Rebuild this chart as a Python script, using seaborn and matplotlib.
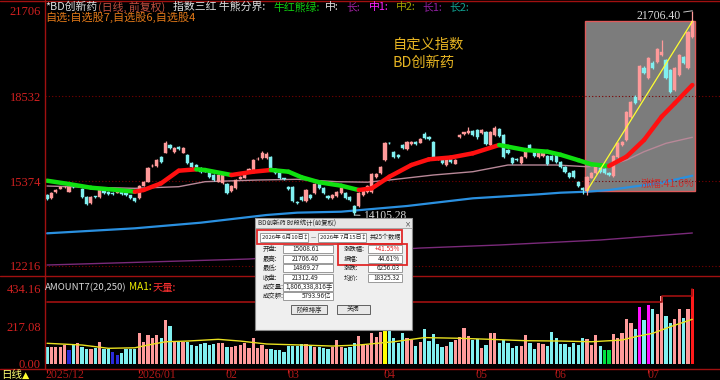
import numpy as np
import matplotlib
matplotlib.use("Agg")
import matplotlib.pyplot as plt
import matplotlib.transforms as mtransforms
import seaborn as sns
from matplotlib.patches import Rectangle

# ---------------- data ----------------
opens = [14853,14742,14965,15076,15140,14965,15160,15170,15076,14779,14556,14790,14779,15039,14965,14928,14928,14965,14928,14853,
         14742,14742,15188,15337,15920,15932,16267,16416,16713,16453,16639,16416,16341,16044,15969,15858,15783,15709,15597,15337,
         15300,15262,15002,15114,15448,15486,15709,15783,16180,16230,16230,16267,15820,15672,15460,15151,15151,14593,14779,14630,
         14853,14928,15337,15114,14816,14742,14816,14928,14928,14779,14444,14444,14853,14965,14965,15523,15672,16155,16788,16453,
         16341,16713,16564,16750,16825,16788,17122,17011,16825,16200,16155,15969,16267,16006,17011,17122,17160,17234,17271,17160,
         17197,16713,17085,17308,17085,16527,16230,16192,16044,16267,16713,16453,16267,16304,16304,16304,16341,16081,15895,15672,
         15746,15337,15114,15008.61,15486,15672,15858,15820,15672,15560,16267,16713,16899,17755,18499,18387,19578,19206,19764,19801,
         20061,19875,19503,18759,19317,19987,19578,20731]
highs = [14900,14960,15080,15180,15200,15190,15190,15230,15120,14800,14800,14830,15070,15070,14990,14950,15030,14990,14950,14870,
         14760,15220,15370,15890,15990,16190,16300,16850,16760,16640,16670,16650,16370,16070,16000,15880,15810,15730,15620,15630,
         15640,15290,15220,15440,15560,15700,15850,16190,16260,16480,16460,16300,15850,15700,15490,15180,15180,14620,14800,15070,
         14890,15300,15360,15140,14840,14880,14990,15140,14950,14800,14480,14960,15070,15220,15670,15670,15930,16830,16830,16480,
         16370,16740,16860,16860,16860,16970,17180,17040,16850,16230,16180,16220,16300,16190,17110,17200,17380,17260,17300,17300,
         17230,17230,17420,17340,17110,16560,16260,16230,16300,16560,16750,16480,16520,16480,16340,16330,16370,16110,15920,15700,
         15770,15360,15140,15560,15710,15930,15890,15850,15700,16340,16830,16870,17990,18360,18560,19700,19640,20000,19820,20330,
         20619,19930,19540,19620,20110,20040,20960,21706.40]
lows = [14660,14720,14940,15060,15110,14950,15120,15150,14760,14490,14530,14740,14760,14900,14870,14870,14910,14870,14830,14720,
        14600,14720,15170,15320,15890,15910,16060,16400,16580,16430,16540,16400,16020,15870,15800,15690,15700,15500,15390,15320,
        15280,14900,14980,15090,15430,15470,15690,15760,16150,16210,16200,15760,15650,15460,15410,15050,14600,14500,14640,14610,
        14720,14900,15090,14900,14720,14720,14790,14900,14720,14640,14105.28,14420,14830,14940,14940,15500,15650,16130,16740,16240,
        16240,16580,16540,16730,16730,16770,16950,16910,16200,16150,16020,15950,16060,15990,16990,17100,17140,17060,16940,17140,
        16720,16690,17060,17020,16240,16390,16020,16130,16020,16240,16500,16280,16240,16280,15980,16130,16060,15870,15690,15500,
        15500,15160,14880,14869.27,15470,15650,15690,15650,15570,15540,16240,16690,16870,17720,18240,18350,19350,19170,19540,19770,
        20030,19170,18650,18720,19290,19720,19540,20700]
closes = [14704,14928,15039,15151,15160,15151,15150,15190,14779,14518,14779,14770,15039,14928,14890,14890,15002,14890,14853,14742,
          14630,15188,15337,15858,15940,16155,16081,16788,16602,16602,16564,16602,16044,15895,15820,15709,15720,15523,15411,15597,
          15597,14928,15188,15411,15523,15672,15820,16155,16200,16416,16378,15783,15672,15486,15440,15076,14630,14540,14667,15039,
          14742,15262,15114,14928,14742,14853,14965,15114,14742,14667,14184,14928,15039,15188,15634,15634,15895,16788,16770,16267,
          16267,16602,16825,16825,16750,16936,16974,16936,16230,16180,16044,16192,16081,16155,17085,17197,17234,17085,17011,17271,
          16750,17197,17346,17048,16267,16416,16044,16155,16267,16527,16527,16304,16490,16453,16006,16155,16081,15895,15709,15523,
          15523,15188,15056.46,15523,15672,15895,15709,15672,15597,16304,16788,16825,17941,18313,18276,19652,19392,19950,19578,20284,
          20173,19206,18685,19578,20061,19764,20917,21312.49]
volumes = [94,94,97,97,107,78,107,121,97,84,84,88,126,84,84,68,49,63,84,84,
           84,179,126,165,146,165,146,252,217,126,132,126,126,107,101,113,121,107,113,121,
           117,94,97,103,107,117,88,146,88,107,84,84,78,78,68,101,101,101,113,111,
           107,97,94,88,84,94,136,97,88,97,117,159,107,107,175,155,184,194,194,146,
           117,179,146,136,101,126,198,131,169,113,94,101,126,136,155,204,159,136,140,88,
           107,179,179,121,136,117,88,101,101,165,117,82,117,113,101,182,150,113,113,97,
           121,107,146,140,107,165,101,78,78,171,146,175,258,233,202,325,252,339,314,285,
           391,277,233,256,314,262,316,434.16]
# special volume-bar flags
vol_flags = {5: "b", 15: "b", 16: "b", 77: "y", 127: "g", 128: "g", 135: "m", 137: "m", 147: "R"}

# moving-average lines (bar index, value)
ma_mid_idx = [0,5,10,16,20,22,26,30,34,36,42,47,51,55,58,62,67,71,74,78,83,87,92,97,103,105,109,114,117,121,124,128,132,136,140,143,147]
ma_mid_val = [15385,15262,15125,15039,14976,15039,15288,15757,15809,15783,15597,15720,15783,15720,15512,15326,15200,15039,15102,15534,
              15969,16181,16250,16404,16713,16650,16527,16464,16350,16150,15995,15932,16278,16899,17766,18264,18945]
ma_thin_idx = [0,10,20,30,36,48,57,66,73,78,88,97,105,116,123,128,132,136,141,147]
ma_thin_val = [15188,15140,15102,15162,15348,15411,15437,15348,15330,15411,15597,15720,15969,15969,15906,15943,16155,16464,16776,17000]
ma_blue_idx = [0,20,35,50,57,67,82,97,112,117,123,128,140,147]
ma_blue_val = [13428,13614,13823,14109,14196,14232,14444,14730,14879,14939,14976,15039,15311,15571]
ma_purp_idx = [0,23,46,85,103,126,147]
ma_purp_val = [12249,12361,12472,12880,12993,13179,13440]
vma_idx = [0,8,14,20,23,27,32,39,44,50,58,65,71,79,86,94,101,109,117,124,131,134,138,142,147]
vma_val = [117,107,88,91,107,126,130,140,130,113,107,101,107,126,150,146,140,132,130,126,136,155,175,213,256]
tianliang_idx = [0,140,147]
tianliang_val = [356,393,434.16]

price_ticks = [21706, 18532, 15374, 12216]
vol_ticks = [434.16, 217.08, 0.00]
month_idx = [0,21,41,55,77,98,116,137]
month_lbl = ["2025/12","2026/01","02","03","04","05","06","07"]
sel_start, sel_end = 123, 147

# ---------------- style ----------------
sns.set_theme(style="dark", rc={"axes.facecolor": "black", "figure.facecolor": "black",
                                 "axes.edgecolor": "black", "grid.color": "black"})
plt.rcParams["font.family"] = ["Noto Sans CJK SC", "DejaVu Sans"]
NUMF = ["Liberation Serif", "DejaVu Serif"]
CJK = ["Noto Sans CJK SC", "DejaVu Sans"]

UP, DN = "#ff9a9a", "#80f0f0"
AXRED = "#d02020"
LINERED = "#a01010"
flag_col = {"b": "#2a2ad8", "y": "#ffff00", "g": "#00e040", "m": "#ff10ff", "R": "#ff1a1a"}

W, H = 720, 380
fig = plt.figure(figsize=(7.2, 3.8), dpi=100, facecolor="black")

def fa(x0, y0, x1, y1):
    return [x0 / W, 1 - y1 / H, (x1 - x0) / W, (y1 - y0) / H]

ax_p = fig.add_axes(fa(45, 1, 720, 276))
ax_v = fig.add_axes(fa(45, 276, 720, 369), sharex=ax_p)
ax_o = fig.add_axes([0, 0, 1, 1], zorder=10)
ax_o.set_xlim(0, W); ax_o.set_ylim(H, 0); ax_o.axis("off")

for ax in (ax_p, ax_v):
    ax.set_facecolor("black")
    for s in ax.spines.values():
        s.set_visible(False)
    ax.grid(False)

o = np.array(opens, float); h = np.array(highs, float)
l = np.array(lows, float); c = np.array(closes, float)
n = len(o)
idx = np.arange(n)
up = c >= o
cols = np.where(up, UP, DN)

ax_p.set_xlim(-0.456, 153.3)
ax_p.set_ylim(11840, 22070)

# gray selection box and grid
ax_p.add_patch(Rectangle((sel_start - 0.5, o[sel_start]), sel_end - sel_start + 1, c[sel_end] - o[sel_start],
                         facecolor="#7c7c7c", edgecolor="#e05a5a", lw=1.0, zorder=0.8))
for v in price_ticks[1:]:
    ax_p.axhline(v, color="#7a0000", lw=0.8, ls=(0, (1, 2)), zorder=1)

# long MAs
sns.lineplot(x=ma_purp_idx, y=ma_purp_val, ax=ax_p, color="#7a2a7a", lw=1.0, estimator=None, sort=False, zorder=2)
sns.lineplot(x=ma_blue_idx, y=ma_blue_val, ax=ax_p, color="#2a90e0", lw=1.6, estimator=None, sort=False, zorder=2)
sns.lineplot(x=ma_thin_idx, y=ma_thin_val, ax=ax_p, color="#b88898", lw=1.0, estimator=None, sort=False, zorder=2)

# candles
ax_p.vlines(idx, l, h, colors=cols, lw=0.9, zorder=3)
body_lo = np.minimum(o, c)
body_h = np.maximum(np.abs(c - o), 28)
ax_p.bar(idx, body_h, bottom=body_lo, width=0.72, color=cols, edgecolor=cols, lw=0.3, zorder=4)

# thick MA, red rising / green falling
prev = "#ff1010"
for k in range(len(ma_mid_idx) - 1):
    y0, y1 = ma_mid_val[k], ma_mid_val[k + 1]
    colr = "#ff1010" if y1 > y0 else ("#10e010" if y1 < y0 else prev)
    prev = colr
    ax_p.plot([ma_mid_idx[k], ma_mid_idx[k + 1]], [y0, y1], color=colr, lw=3.2,
              solid_capstyle="round", zorder=5)

# diagonal of selection
ax_p.plot([sel_start, sel_end], [o[sel_start], c[sel_end]], color="#ffff30", lw=0.9, zorder=6)

# labels of extremes
hi_i = int(np.argmax(h)); lo_i = int(np.argmin(l))
ax_p.annotate(f"{h[hi_i]:.2f}", xy=(hi_i, h[hi_i]), xytext=(-12, -5), textcoords="offset pixels",
              ha="right", va="center", color="#d8d8d8", fontsize=8.5, family=NUMF,
              arrowprops=dict(arrowstyle="-", color="#c8c8c8", lw=0.7, shrinkA=0, shrinkB=0), zorder=7)
ax_p.annotate(f"{l[lo_i]:.2f}", xy=(lo_i, l[lo_i]), xytext=(9, -1), textcoords="offset pixels",
              ha="left", va="center", color="#d8d8d8", fontsize=8.3, family=NUMF,
              arrowprops=dict(arrowstyle="-", color="#c8c8c8", lw=0.7, shrinkA=0, shrinkB=0), zorder=7)
pct = (c[sel_end] / c[sel_start - 1] - 1) * 100
ax_p.text(sel_end + 0.5, o[sel_start] + 60, f"涨幅:{pct:.1f}%", ha="right", va="bottom",
          color="#c83030", fontsize=7.5, family=CJK, zorder=6)

ax_p.set_yticks(price_ticks)
ax_p.set_yticklabels([str(t) for t in price_ticks])
ax_p.tick_params(axis="y", length=0, pad=3, labelcolor=AXRED, labelsize=9)
ax_p.tick_params(axis="x", bottom=False, labelbottom=False)
for t in ax_p.get_yticklabels():
    t.set_family(NUMF)

# ---------------- volume ----------------
vcols = [flag_col[vol_flags[i]] if i in vol_flags else (UP if up[i] else DN) for i in range(n)]
ax_v.set_ylim(-31.8, 506.6)
ax_v.bar(idx, volumes, width=0.74, color=vcols, lw=0, zorder=3)
sns.lineplot(x=vma_idx, y=vma_val, ax=ax_v, color="#e8e020", lw=1.0, estimator=None, sort=False, zorder=4)
ax_v.step(tianliang_idx, tianliang_val, where="post", color=LINERED, lw=1.2, zorder=4)
ax_v.set_yticks(vol_ticks)
ax_v.set_yticklabels([f"{t:.2f}" for t in vol_ticks])
ax_v.tick_params(axis="y", length=0, pad=3, labelcolor=AXRED, labelsize=9)
ax_v.set_xticks(month_idx)
ax_v.tick_params(axis="x", bottom=True, length=3, width=0.8, color=AXRED, labelbottom=False)
for t in ax_v.get_yticklabels():
    t.set_family(NUMF)
ax_v.set_xlabel(""); ax_v.set_ylabel(""); ax_p.set_ylabel(""); ax_p.set_xlabel("")

# month labels just under the volume panel
blend = mtransforms.blended_transform_factory(ax_v.transData, ax_o.transData)
for mi, ml in zip(month_idx, month_lbl):
    ax_o.text(mi - 0.3, 374.5, ml, transform=blend, ha="left", va="center",
              color="#b01818", fontsize=8.6, family=NUMF)

# ---------------- frame lines ----------------
for yy in (1, 276, 369):
    ax_o.plot([0, W], [yy, yy], color=LINERED, lw=1.0, zorder=1)
ax_o.plot([45, 45], [0, 369], color=LINERED, lw=1.0, zorder=1)

# ---------------- texts ----------------
def put(x, y, s, col, size, fam=CJK, z=12):
    ax_o.text(x, y, s, color=col, fontsize=size, va="center", ha="left", family=fam, zorder=z)

title_parts = [(45, "*BD创新药", "#e0e0e0"), (97.5, "(日线, 前复权)", "#c05040"),
               (173, "指数三红 牛熊分界:", "#e0e0e0"), (273, "牛红熊绿:", "#10d010"),
               (325, "中:", "#e0e0e0"), (346, "长:", "#a020a0"), (369, "中1:", "#ff20ff"),
               (396, "中2:", "#a0a000"), (422, "长1:", "#9020a0"), (449, "长2:", "#10a090")]
for x, s, col in title_parts:
    put(x, 7, s, col, 7.8)
put(45, 17.5, "自选:自选股7,自选股6,自选股4", "#e07818", 8.0)
put(45, 287.5, "AMOUNT7(20,250)", "#d8d8d8", 6.9)
put(129, 287.5, "MA1:", "#f0f000", 7.2)
put(153, 287.5, "天量:", "#ff3030", 7.4)
put(1, 375, "日线", "#ffff70", 7.6)
put(21.5, 375, "▲", "#ffff30", 6.8, fam=["DejaVu Sans"])
ax_o.text(393, 45, "自定义指数", color="#e6b422", fontsize=10.3, va="center", ha="left", family=CJK)
ax_o.text(393, 63, "BD创新药", color="#e6b422", fontsize=10.3, va="center", ha="left", family=CJK)

# ---------------- statistics dialog ----------------
def rect(x0, y0, x1, y1, fc, ec, lw=0.7, z=20):
    ax_o.add_patch(Rectangle((x0, y0), x1 - x0, y1 - y0, facecolor=fc, edgecolor=ec, lw=lw, zorder=z))

def txt(x, y, s, ha="left", col="#202020", fs=4.6, z=22):
    ax_o.text(x, y, s, ha=ha, va="center", color=col, fontsize=fs, family=CJK, zorder=z)

rect(255, 218, 412, 330, "#efefef", "#8a8a8a", lw=0.8)
rect(255, 218, 412, 228, "#e6e6e6", "#8a8a8a", lw=0.5)
txt(258, 223.5, "BD创新药 时段统计(前复权)")
txt(407.5, 224, "×", ha="center", fs=4.4)
rect(257, 230, 402, 244, "none", "#e02828", lw=1.3, z=21)
rect(260, 233, 308, 242, "white", "#9a9a9a")
txt(261.5, 237.5, "2026年 6月10日", fs=4.2)
txt(305.5, 237.5, "↕", ha="center", fs=4.0)
txt(313, 237.5, "—", ha="center", fs=4.2)
rect(318, 233, 366, 242, "white", "#9a9a9a")
txt(319.5, 237.5, "2026年 7月15日", fs=4.2)
txt(363.5, 237.5, "↕", ha="center", fs=4.0)
txt(370, 237.5, "共25个数据", fs=4.4)
rect(338, 244, 407, 265, "none", "#e02828", lw=1.3, z=21)
rows = [249, 259, 268, 278, 287, 296]
left_lbl = ["开盘:", "最高:", "最低:", "收盘:", "成交量:", "成交额:"]
left_val = ["15008.61", "21706.40", "14869.27", "21312.49", "1,806,338,816手", "5793.96亿"]
for k, (yy, lb, vv) in enumerate(zip(rows, left_lbl, left_val)):
    txt(263, yy, lb)
    rect(283, yy - 3.6, 333, yy + 3.6, "white", "#9a9a9a")
    if k < 4:
        txt(292, yy, vv)
    elif k == 4:
        txt(285, yy, vv)
    else:
        txt(331, yy, vv, ha="right")
right_lbl = ["涨跌幅:", "振幅:", "涨跌:", "均价:"]
right_val = ["+41.55%", "44.61%", "6256.03", "18325.32"]
for k, (yy, lb, vv) in enumerate(zip(rows[:4], right_lbl, right_val)):
    txt(344, yy, lb)
    rect(368, yy - 3.6, 402, yy + 3.6, "white", "#9a9a9a")
    txt(400, yy, vv, ha="right", col="#e02020" if k == 0 else "#202020")
rect(291, 305, 327, 314, "#e8e8e8", "#606060")
txt(309, 309.5, "阶段排序", ha="center")
rect(337, 305, 370, 314, "#e8e8e8", "#606060")
txt(353.5, 309.5, "关闭", ha="center")

fig.savefig("out.png", dpi=100, facecolor="black")
